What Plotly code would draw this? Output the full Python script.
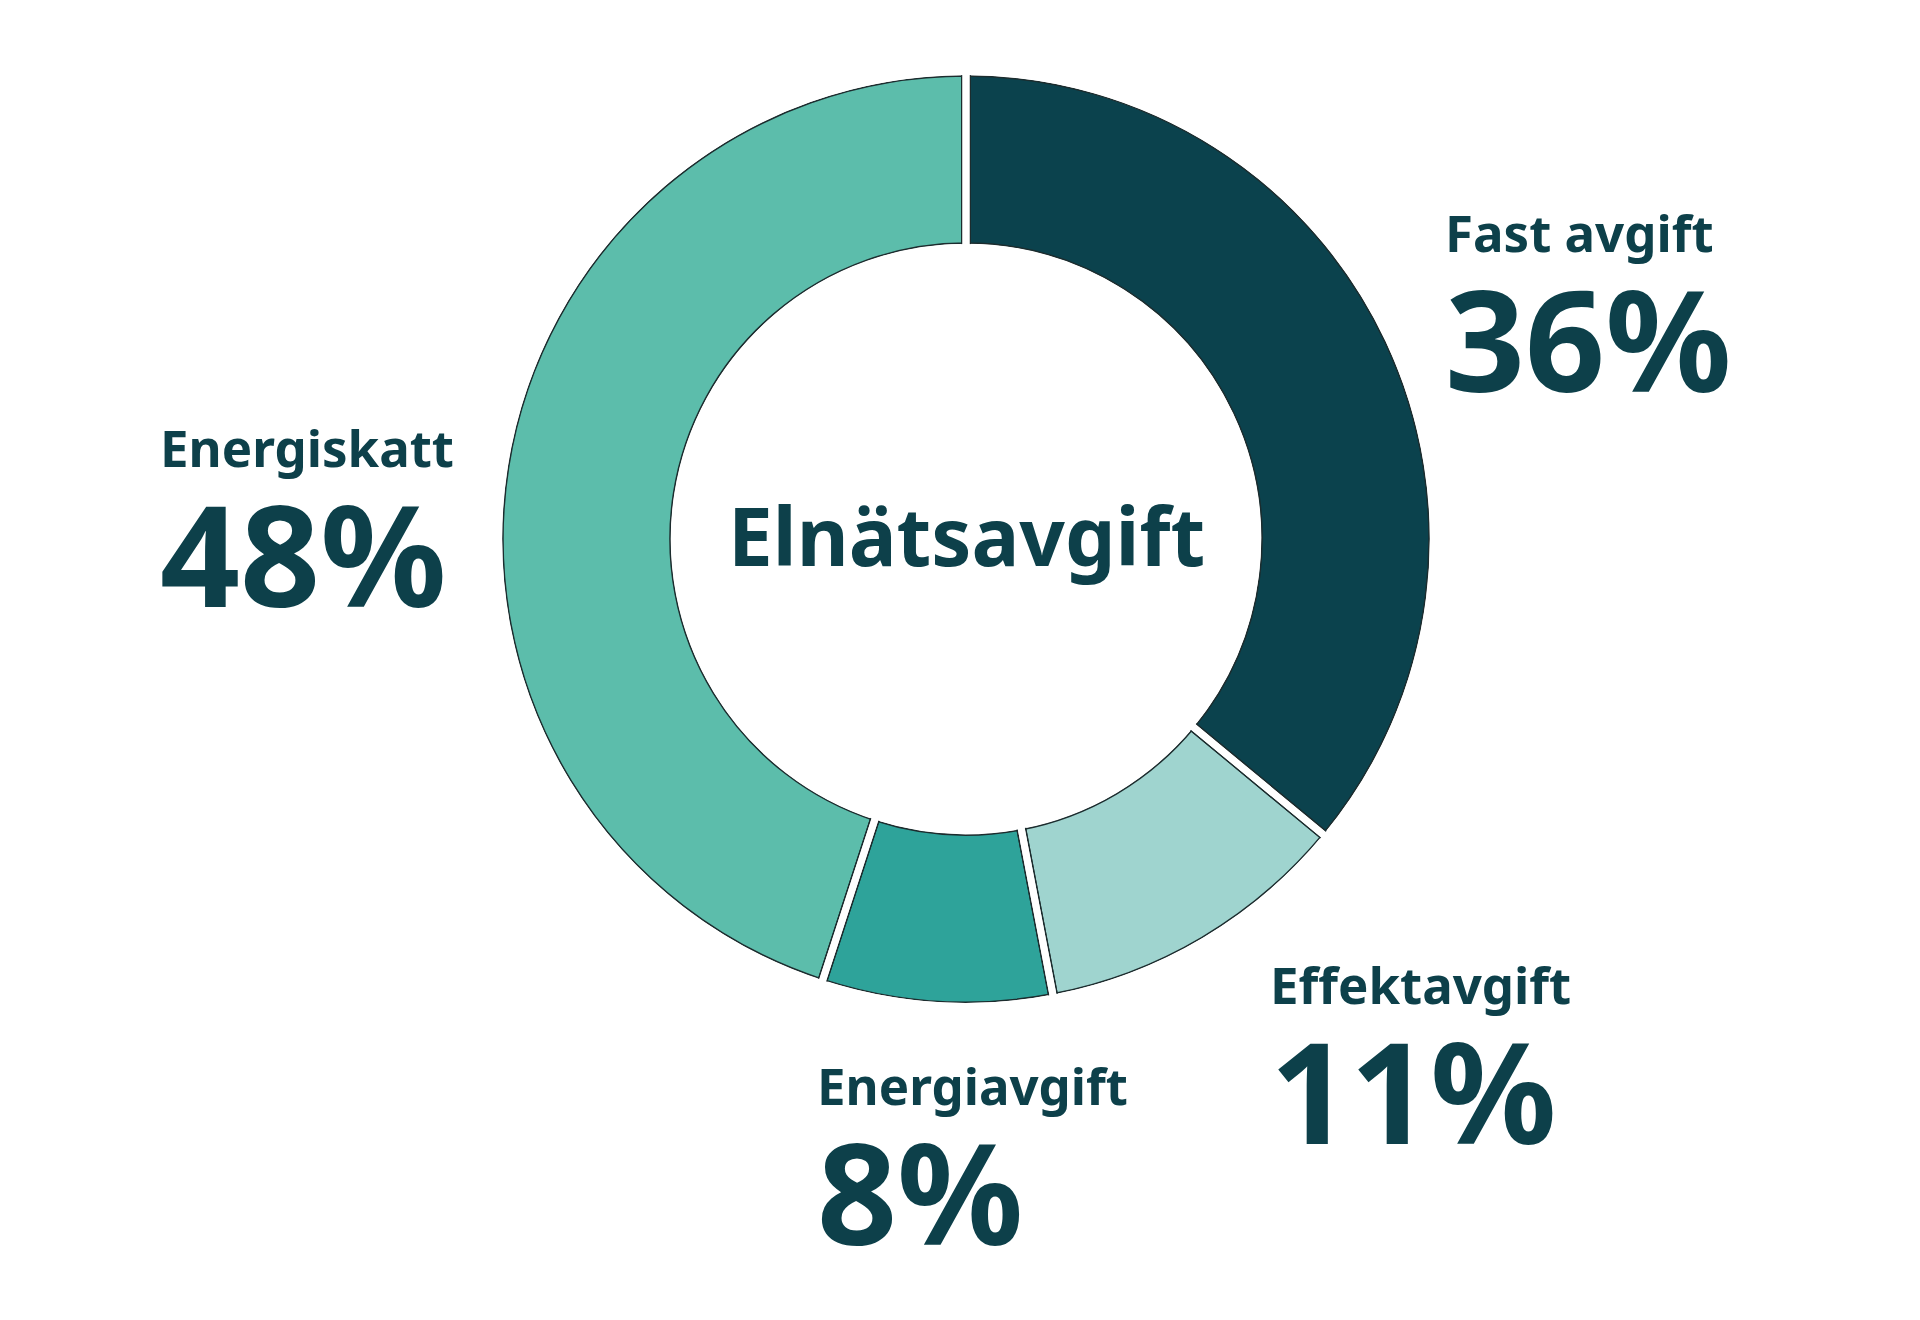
import plotly.graph_objects as go

# %%
# data
categories = ["Fast avgift", "Effektavgift", "Energiavgift", "Energiskatt"]
label_pct = [36, 11, 8, 48]          # printed percentages
slice_values = [36, 11, 8, 45]       # arc sizes as drawn in the picture
colors = ["#0b424d", "#9fd4cf", "#2ea39a", "#5cbdab"]
center_title = "Elnätsavgift"

W, H = 1920, 1320
CX, CY = 958, 531          # donut centre in px (from top)
R_OUT, R_IN = 463, 296     # outer / inner radius in px
TEXT = "#0d404a"
FONT = "Noto Sans"


# %%
def domain(r):
    yb = H - CY
    return dict(x=[(CX - r) / W, (CX + r) / W], y=[(yb - r) / H, (yb + r) / H])


def ring(values, r, hole, fill, line_color, line_width):
    return go.Pie(
        values=values,
        labels=[str(i) for i in range(len(values))],
        domain=domain(r),
        hole=hole,
        sort=False,
        direction="clockwise",
        rotation=0,
        marker=dict(colors=fill, line=dict(color=line_color, width=line_width)),
        textinfo="none",
        hoverinfo="skip",
        showlegend=False,
    )


# %%
clear = ["rgba(0,0,0,0)"] * len(slice_values)
ext_r, ext_in = R_OUT + 30, R_IN - 30

fig = go.Figure()
# main slices with thin dark outline
fig.add_trace(ring(slice_values, R_OUT, R_IN / R_OUT, colors, "#1c2c2e", 1.5))
# dark separator bands
fig.add_trace(ring(slice_values, ext_r, ext_in / ext_r, clear, "#1c2c2e", 10))
# white covers outside and inside the ring
fig.add_trace(ring([1], R_OUT + 60, (R_OUT + 1) / (R_OUT + 60), ["white"], "white", 0))
fig.add_trace(ring([1], R_IN - 1, 0, ["white"], "white", 0))
# white gaps between slices
fig.add_trace(ring(slice_values, ext_r, ext_in / ext_r, clear, "white", 7))

# %%
# label positions (px from top-left): left x, top of the name line
label_pos = [
    (1435, 187),
    (1260, 939),
    (807, 1040),
    (150, 402),
]

annotations = []
for name, pct, (x, y) in zip(categories, label_pct, label_pos):
    annotations.append(dict(
        x=x / W, y=1 - y / H, xref="paper", yref="paper",
        xanchor="left", yanchor="top", align="left", showarrow=False,
        text=(f"<span style='font-size:51px'>{name}</span><br>"
              f"<span style='font-size:140px'>{pct}%</span>"),
        font=dict(family=FONT, size=108, color=TEXT, weight="bold"),
    ))

annotations.append(dict(
    x=CX / W, y=1 - (CY - 4) / H, xref="paper", yref="paper",
    xanchor="center", yanchor="middle", showarrow=False, text=center_title,
    font=dict(family=FONT, size=80, color=TEXT, weight="bold"),
))

fig.update_layout(
    width=W,
    height=H,
    margin=dict(l=0, r=0, t=0, b=0),
    paper_bgcolor="white",
    plot_bgcolor="white",
    annotations=annotations,
)

fig.write_html("out.html")
